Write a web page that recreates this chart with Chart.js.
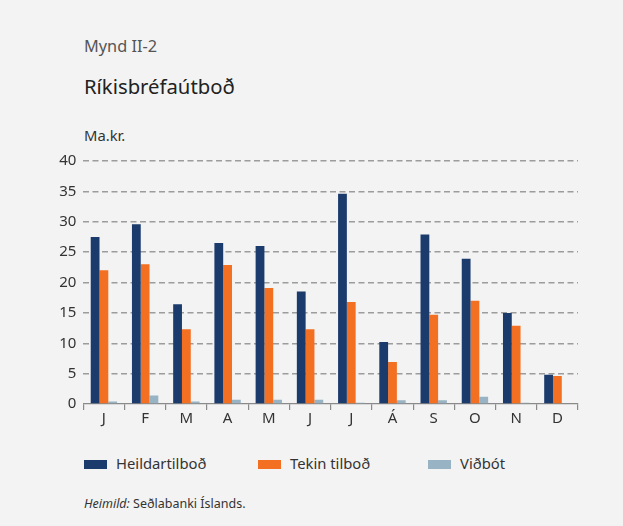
<!DOCTYPE html>
<html>
<head>
<meta charset="utf-8">
<script src="https://cdn.jsdelivr.net/npm/chart.js@4"></script>
<style>
  body { margin: 0; background: #fff; }
  #frame {
    position: relative; width: 623px; height: 526px;
    background: #f3f3f3; font-family: "Noto Sans", sans-serif; color: #333;
  }
  .txt { position: absolute; white-space: nowrap; }
  #fig { left: 84px; top: 35px; font-size: 16.3px; color: #555; }
  #title { left: 84px; top: 72px; font-size: 20.3px; color: #222; }
  #unit { left: 84px; top: 125px; font-size: 14.8px; color: #333; }
  #chartBox { position: absolute; left: 40px; top: 145px; width: 545px; height: 290px; }
  .leg { position: absolute; top: 453px; font-size: 14.8px; color: #333; }
  .leg span.sw { position: absolute; left: 0; top: 7px; width: 23px; height: 9px; }
  .leg span.lb { position: absolute; left: 32px; top: 0; white-space: nowrap; }
  #src { left: 84px; top: 495px; font-size: 12.5px; color: #333; }
</style>
</head>
<body>
<div id="frame">
  <div class="txt" id="fig">Mynd II-2</div>
  <div class="txt" id="title">Ríkisbréfaútboð</div>
  <div class="txt" id="unit">Ma.kr.</div>
  <div id="chartBox"><canvas id="chart"></canvas></div>
  <div id="legend"></div>
  <div class="txt" id="src"><i>Heimild:</i> Seðlabanki Íslands.</div>
</div>
<script>
/* =========================
   DATA
========================= */
const months = ["J","F","M","A","M","J","J","Á","S","O","N","D"];

const heildartilbod = [27.5, 29.6, 16.4, 26.5, 26.0, 18.5, 34.6, 10.2, 27.9, 23.9, 15.0, 4.8];
const tekinTilbod   = [22.0, 23.0, 12.3, 22.9, 19.1, 12.3, 16.8, 6.9, 14.7, 17.0, 12.9, 4.6];
const vidbot        = [0.4, 1.4, 0.4, 0.7, 0.7, 0.7, 0.2, 0.6, 0.6, 1.2, 0.2, 0.0];

const seriesNames  = ["Heildartilboð", "Tekin tilboð", "Viðbót"];
const seriesColors = ["#1b3b6d", "#f36f21", "#98b3c3"];
const legendLeft   = [84, 258, 428];

const yTicks = [0, 5, 10, 15, 20, 25, 30, 35, 40];

/* =========================
   LEGEND
========================= */
const legendEl = document.getElementById("legend");
seriesNames.forEach((name, i) => {
    const item = document.createElement("div");
    item.className = "leg";
    item.style.left = legendLeft[i] + "px";
    item.innerHTML = `<span class="sw" style="background:${seriesColors[i]}"></span><span class="lb">${name}</span>`;
    legendEl.appendChild(item);
});

/* =========================
   CHART
========================= */
const font = { family: "Noto Sans", size: 15 };

new Chart(document.getElementById("chart"), {
    type: "bar",
    data: {
        labels: months,
        datasets: [heildartilbod, tekinTilbod, vidbot].map((d, i) => ({
            label: seriesNames[i],
            data: d,
            backgroundColor: seriesColors[i],
            categoryPercentage: 0.64,
            barPercentage: 1.0
        }))
    },
    options: {
        responsive: true,
        maintainAspectRatio: false,
        animation: false,
        layout: { padding: { top: 14, right: 7, left: 0, bottom: 0 } },
        plugins: { legend: { display: false }, tooltip: { enabled: false } },
        scales: {
            x: {
                grid: {
                    offset: true,
                    drawOnChartArea: false,
                    drawTicks: true,
                    tickLength: 6,
                    color: "#8a8a8a",
                    lineWidth: 1.2
                },
                border: { color: "#8a8a8a", width: 1.2 },
                ticks: { color: "#333", font: font, padding: 0, maxRotation: 0 },
                afterFit: s => { s.height = 31; }
            },
            y: {
                min: 0,
                max: 40,
                afterBuildTicks: s => { s.ticks = yTicks.map(v => ({ value: v })); },
                grid: {
                    drawTicks: false,
                    color: c => c.tick && c.tick.value === 0 ? "rgba(0,0,0,0)" : "#9c9c9c",
                    lineWidth: 1.5
                },
                border: { display: false, dash: [6, 3.5] },
                ticks: { color: "#333", font: font, padding: 7 },
                afterFit: s => { s.width = 43.3; }
            }
        }
    }
});
</script>
</body>
</html>
